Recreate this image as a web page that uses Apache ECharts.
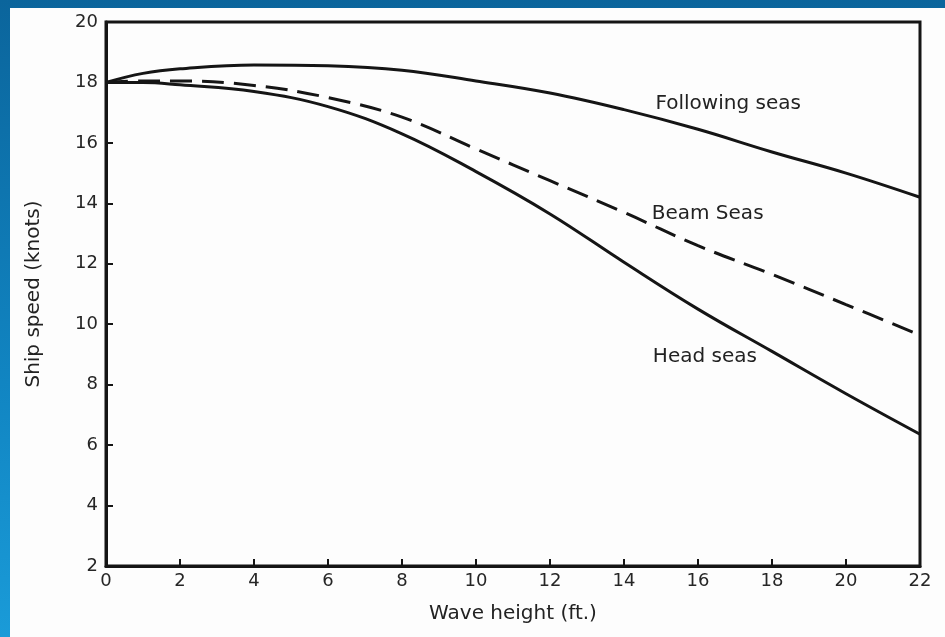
<!DOCTYPE html>
<html>
<head>
<meta charset="utf-8">
<script src="https://cdn.jsdelivr.net/npm/echarts@6/dist/echarts.min.js"></script>
<style>
    html, body { margin: 0; padding: 0; }
    body {
        width: 945px; height: 637px; position: relative; overflow: hidden;
        background: linear-gradient(180deg, #0b659c 0%, #1185c2 60%, #1a9bd8 100%);
    }
    #paper { position: absolute; left: 10px; top: 8px; right: 0; bottom: 0; background: #fdfdfd; }
    #main { position: absolute; left: 0; top: 0; width: 945px; height: 637px; }
</style>
</head>
<body>
<div id="paper"></div>
<div id="main"></div>
<script>
(function () {

    // wave height (ft.)
    var waveHeight = [0, 1, 2, 4, 6, 8, 10, 12, 14, 16, 18, 20, 22];
    // ship speed (knots)
    var followingSeas = [18, 18.3, 18.45, 18.58, 18.55, 18.4, 18.05, 17.65, 17.1, 16.45, 15.7, 15.0, 14.2];
    var beamSeas = [18, 18.05, 18.05, 17.9, 17.5, 16.85, 15.8, 14.75, 13.7, 12.6, 11.65, 10.65, 9.64];
    var headSeas = [18, 18.0, 17.92, 17.7, 17.2, 16.3, 15.05, 13.65, 12.05, 10.5, 9.1, 7.7, 6.36];

    var curveNames = ['Following seas', 'Beam Seas', 'Head seas'];
    var curveLabelAt = [[14.85, 17.3], [14.75, 13.65], [14.78, 8.92]]; // in data units

    var ink = '#151515';
    var font = 'DejaVu Sans';

    var pairs = function (ys) {
        return waveHeight.map(function (x, i) { return [x, ys[i]]; });
    };

    var lineSeries = function (name, ys, dashed) {
        return {
            name: name,
            type: 'line',
            data: pairs(ys),
            smooth: 0.4,
            symbol: 'none',
            silent: true,
            lineStyle: { color: ink, width: 3, type: dashed ? [22, 10] : 'solid' }
        };
    };

    var myChart = echarts.init(document.getElementById('main'));
    myChart.setOption({
        animation: false,
        backgroundColor: 'transparent',
        grid: {
            left: 106, right: 25, top: 22, bottom: 71,
            show: true, borderColor: ink, borderWidth: 3, backgroundColor: 'transparent'
        },
        xAxis: {
            type: 'value', min: 0, max: 22, interval: 2,
            name: 'Wave height (ft.)', nameLocation: 'middle', nameGap: 38,
            nameTextStyle: { color: '#222', fontSize: 20, fontFamily: font },
            axisLine: { show: true, lineStyle: { color: ink, width: 3 } },
            axisTick: { show: true, inside: true, length: 7, lineStyle: { color: ink, width: 2 } },
            axisLabel: { color: '#262626', fontSize: 18, fontFamily: font, margin: 6 },
            splitLine: { show: false }
        },
        yAxis: {
            type: 'value', min: 2, max: 20, interval: 2,
            name: 'Ship speed (knots)', nameLocation: 'middle', nameGap: 62, nameRotate: 90,
            nameTextStyle: { color: '#222', fontSize: 20, fontFamily: font },
            axisLine: { show: true, lineStyle: { color: ink, width: 3 } },
            axisTick: { show: true, inside: true, length: 7, lineStyle: { color: ink, width: 2 } },
            axisLabel: { color: '#262626', fontSize: 18, fontFamily: font, margin: 8 },
            splitLine: { show: false }
        },
        series: [
            lineSeries(curveNames[0], followingSeas, false),
            lineSeries(curveNames[1], beamSeas, true),
            lineSeries(curveNames[2], headSeas, false)
        ]
    });

    // curve captions, placed through the chart's own scales
    myChart.setOption({
        graphic: curveNames.map(function (name, i) {
            var p = myChart.convertToPixel({ gridIndex: 0 }, curveLabelAt[i]);
            return {
                type: 'text', x: p[0], y: p[1], silent: true,
                style: { text: name, fill: '#222', fontSize: 20, fontFamily: font, verticalAlign: 'middle' }
            };
        })
    });

})();
</script>
</body>
</html>
